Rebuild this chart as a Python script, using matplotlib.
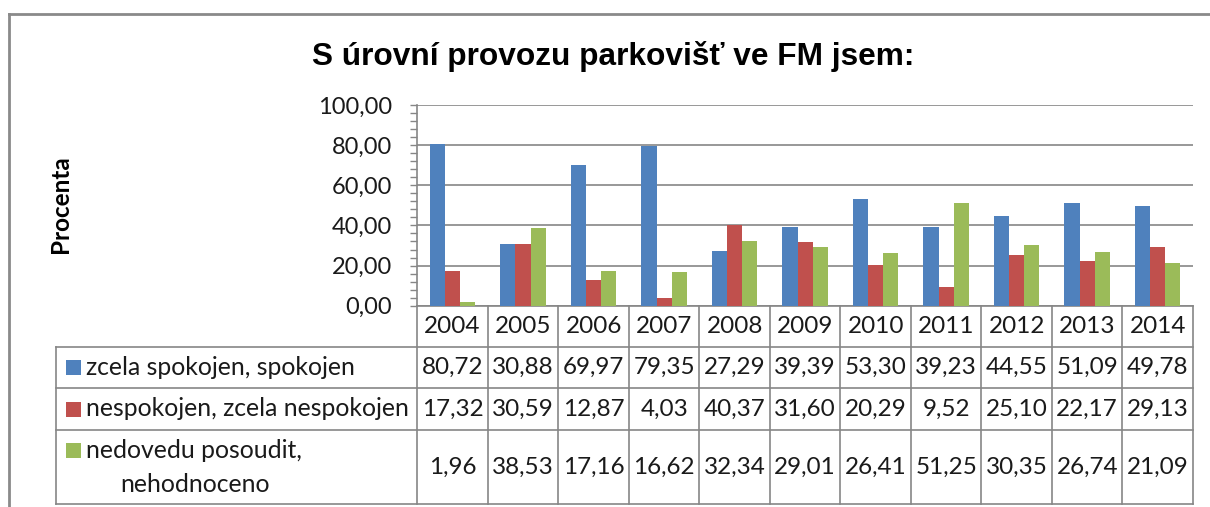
import matplotlib
matplotlib.use("Agg")
import matplotlib.pyplot as plt
import numpy as np
from matplotlib.transforms import blended_transform_factory
from matplotlib.lines import Line2D
from matplotlib.patches import Rectangle
from matplotlib.ticker import MultipleLocator, FuncFormatter

# ---- data ----
years = ["2004", "2005", "2006", "2007", "2008", "2009", "2010", "2011", "2012", "2013", "2014"]
series_names = ["zcela spokojen, spokojen",
                "nespokojen, zcela nespokojen",
                "nedovedu posoudit,\nnehodnoceno"]
spokojen = [80.72, 30.88, 69.97, 79.35, 27.29, 39.39, 53.30, 39.23, 44.55, 51.09, 49.78]
nespokojen = [17.32, 30.59, 12.87, 4.03, 40.37, 31.60, 20.29, 9.52, 25.10, 22.17, 29.13]
nedovedu = [1.96, 38.53, 17.16, 16.62, 32.34, 29.01, 26.41, 51.25, 30.35, 26.74, 21.09]
title = "S úrovní provozu parkovišť ve FM jsem:"
ylabel = "Procenta"

colors = ["#4F81BD", "#C0504D", "#9BBB59"]
grid_col = "#868686"
font = "Lato"

W, H = 1210, 507
fig = plt.figure(figsize=(W / 100, H / 100), dpi=100)
fig.patch.set_facecolor("white")

ax_l, ax_r, ax_t, ax_b = 417.3, 1193.0, 105.0, 305.7
ax = fig.add_axes([ax_l / W, 1 - ax_b / H, (ax_r - ax_l) / W, (ax_b - ax_t) / H])

def fy(ypx):
    return 1 - ypx / H

def fx(xpx):
    return xpx / W

data = [spokojen, nespokojen, nedovedu]
n = len(years)
x = np.arange(n)
bw = 0.215
for k, (vals, c) in enumerate(zip(data, colors)):
    ax.bar(x + (k - 1) * bw, vals, width=bw, color=c, zorder=3, linewidth=0)

ax.set_xlim(-0.5, n - 0.5)
ax.set_ylim(0, 100)
ax.yaxis.set_major_locator(MultipleLocator(20))
ax.yaxis.set_minor_locator(MultipleLocator(4))
ax.yaxis.set_major_formatter(FuncFormatter(lambda v, p: f"{v:.2f}".replace(".", ",")))
ax.set_xticks([])
ax.grid(axis="y", which="major", color=grid_col, linewidth=1.2, zorder=0)
for s in ["top", "right"]:
    ax.spines[s].set_visible(False)
for s in ["left", "bottom"]:
    ax.spines[s].set_color(grid_col)
    ax.spines[s].set_linewidth(1.2)
ax.tick_params(axis="y", which="both", direction="out", length=5, width=1, color=grid_col)
ax.tick_params(axis="y", which="major", pad=13, labelsize=17, labelcolor="#1a1a1a")
for lab in ax.get_yticklabels():
    lab.set_fontfamily(font)

# title and y label
fig.text(fx(613), fy(56), title, ha="center", va="center", fontsize=22.8,
         fontweight="bold", family="Liberation Sans", color="black")
fig.text(fx(61), fy(204), ylabel, ha="center", va="center", rotation=90,
         fontsize=17.5, fontweight="bold", family=font, color="black")

# outer border
fig.add_artist(Line2D([fx(9), 1.0], [fy(14), fy(14)], transform=fig.transFigure,
                      color="#8a8a8a", linewidth=2))
fig.add_artist(Line2D([fx(9), fx(9)], [fy(14), 0.0], transform=fig.transFigure,
                      color="#8a8a8a", linewidth=2))

# data table
tr = blended_transform_factory(ax.transData, fig.transFigure)
leg_l = 56
rows_y = [ax_b, 347, 388, 430, 504]
lc = grid_col
lw = 1.2
for i in range(n + 1):
    fig.add_artist(Line2D([i - 0.5, i - 0.5], [fy(ax_b), fy(rows_y[-1])], transform=tr,
                          color=lc, linewidth=lw))
fig.add_artist(Line2D([fx(leg_l), fx(leg_l)], [fy(rows_y[1]), fy(rows_y[-1])],
                      transform=fig.transFigure, color=lc, linewidth=lw))
for yy in rows_y[1:]:
    fig.add_artist(Line2D([fx(leg_l), fx(ax_r)], [fy(yy), fy(yy)],
                          transform=fig.transFigure, color=lc, linewidth=lw))

fs_tab = 17.5
fs_leg = 17.8
for i, yr in enumerate(years):
    fig.text(i, fy((rows_y[0] + rows_y[1]) / 2), yr, transform=tr, ha="center", va="center",
             fontsize=fs_tab, family=font, color="#1a1a1a")
for r, vals in enumerate(data):
    yc = (rows_y[r + 1] + rows_y[r + 2]) / 2
    for i, v in enumerate(vals):
        fig.text(i, fy(yc), f"{v:.2f}".replace(".", ","), transform=tr, ha="center",
                 va="center", fontsize=fs_tab, family=font, color="#1a1a1a")

key_centers = [367.5, 409, 450]
for r, name in enumerate(series_names):
    yc = key_centers[r]
    fig.add_artist(Rectangle((fx(66), fy(yc + 7.5)), 15 / W, 15 / H, transform=fig.transFigure,
                             facecolor=colors[r], edgecolor="none"))
    lines = name.split("\n")
    fig.text(fx(86), fy(yc), lines[0], ha="left", va="center", fontsize=fs_leg,
             family=font, color="#1a1a1a")
    if len(lines) > 1:
        fig.text(fx(120), fy(yc + 34), lines[1], ha="left", va="center", fontsize=fs_leg,
                 family=font, color="#1a1a1a")

fig.savefig("out.png", dpi=100, facecolor="white")
